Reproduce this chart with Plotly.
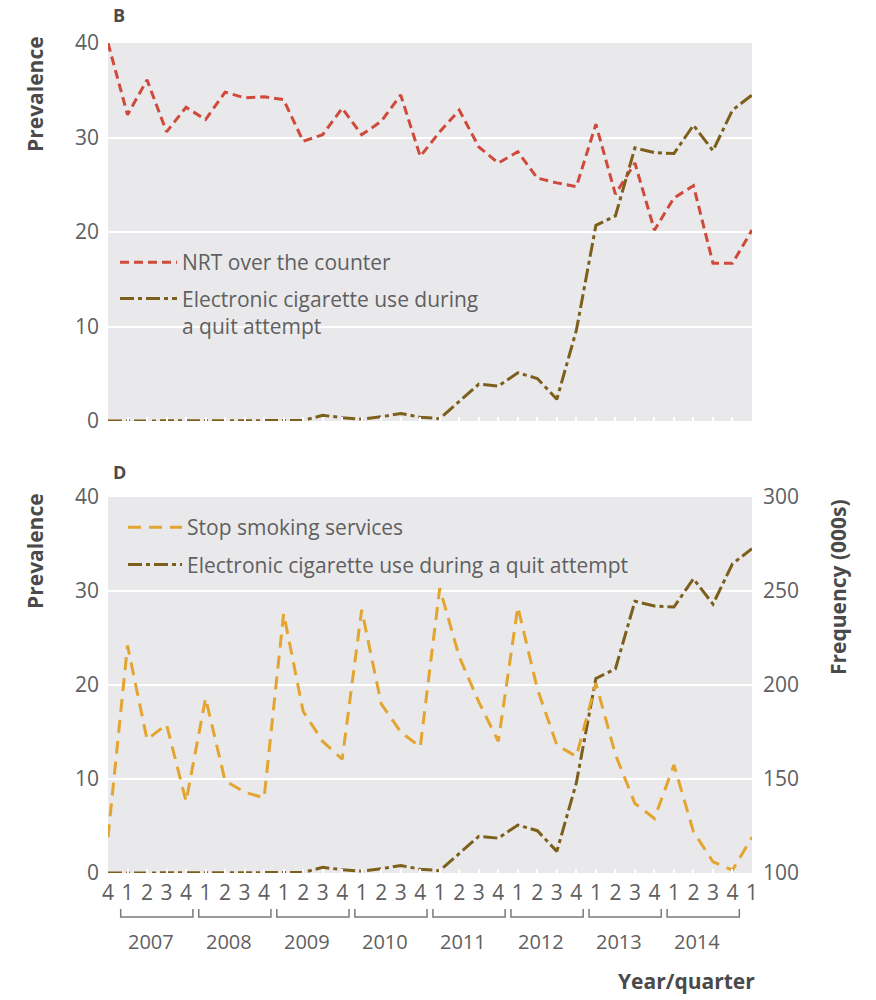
import plotly.graph_objects as go

# Quarter axis: 2006 Q4 through 2015 Q1
quarter_labels = ["4",
                  "1", "2", "3", "4", "1", "2", "3", "4",
                  "1", "2", "3", "4", "1", "2", "3", "4",
                  "1", "2", "3", "4", "1", "2", "3", "4",
                  "1", "2", "3", "4", "1", "2", "3", "4",
                  "1"]
years = ["2007", "2008", "2009", "2010", "2011", "2012", "2013", "2014"]

# Prevalence (%) of NRT bought over the counter
nrt_otc = [40.0, 32.4, 36.1, 30.6, 33.2, 31.9, 34.8, 34.2, 34.3, 34.0,
           29.6, 30.3, 33.1, 30.3, 31.7, 34.5, 28.0, 30.6, 32.9, 29.0,
           27.3, 28.5, 25.7, 25.2, 24.8, 31.4, 24.0, 27.3, 20.2, 23.6,
           24.9, 16.7, 16.7, 20.2]

# Prevalence (%) of electronic cigarette use during a quit attempt
ecig = [0, 0, 0, 0, 0, 0, 0, 0, 0, 0,
        0.05, 0.6, 0.35, 0.2, 0.45, 0.8, 0.4, 0.25, 2.1, 3.9,
        3.7, 5.1, 4.5, 2.3, 9.6, 20.7, 21.7, 28.9, 28.4, 28.3,
        31.3, 28.6, 32.9, 34.5]

# Stop smoking services, quit dates set (000s)
stop_smoking = [119, 221, 171, 179, 138, 193, 149, 143, 140, 238,
                186, 170, 160.5, 240, 190, 175, 167, 251.5, 215, 191,
                170, 241.5, 198, 168, 162, 201, 163, 137, 129, 157.5,
                122, 106, 101.5, 119]

idx = list(range(len(quarter_labels)))

W, H = 876, 1000
FONT = "Open Sans"
TXT = "#606060"
BOLD = "#4a4a4a"
BG = "#e9e9ec"
RED = "#cf4a3b"
BROWN = "#7d5f1c"
GOLD = "#e3a530"

DASH_NRT = "9px,5px"
DASH_ECIG = "14px,4px,4px,4px"
DASH_SSS = "13px,8px"

x0, x1 = 108 / W, 752 / W
top_dom = [1 - 421 / H, 1 - 43 / H]
bot_dom = [1 - 873 / H, 1 - 497 / H]

fig = go.Figure()

# Panel B
fig.add_trace(go.Scatter(x=idx, y=nrt_otc, mode="lines", name="NRT over the counter",
                         legendgroup="b_nrt",
                         line=dict(color=RED, width=3, dash=DASH_NRT),
                         xaxis="x", yaxis="y", legend="legend"))
fig.add_trace(go.Scatter(x=idx, y=ecig, mode="lines",
                         name="Electronic cigarette use during<br>a quit attempt",
                         legendgroup="b_ecig",
                         line=dict(color=BROWN, width=3, dash=DASH_ECIG),
                         xaxis="x", yaxis="y", legend="legend"))

# Panel D
fig.add_trace(go.Scatter(x=idx, y=stop_smoking, mode="lines", name="Stop smoking services",
                         legendgroup="d_sss",
                         line=dict(color=GOLD, width=3, dash=DASH_SSS),
                         xaxis="x2", yaxis="y3", legend="legend2"))
fig.add_trace(go.Scatter(x=idx, y=ecig, mode="lines",
                         name="Electronic cigarette use during a quit attempt",
                         legendgroup="d_ecig",
                         line=dict(color=BROWN, width=3, dash=DASH_ECIG),
                         xaxis="x2", yaxis="y2", legend="legend2"))

xcommon = dict(range=[0, len(idx) - 1], showgrid=False, zeroline=False, showline=False,
               tickmode="array", tickvals=idx, ticks="inside", ticklen=4,
               tickwidth=1.5, tickcolor="white", fixedrange=True, automargin=False)
ycommon = dict(range=[0, 40], tickvals=[0, 10, 20, 30, 40], showgrid=True,
               gridcolor="white", gridwidth=2, zeroline=False, showline=False,
               ticks="", ticklabelstandoff=8, automargin=False,
               tickfont=dict(family=FONT, size=21, color=TXT))

legend_common = dict(xanchor="left", yanchor="top", bgcolor="rgba(0,0,0,0)",
                     valign="top", font=dict(family=FONT, size=21, color=TXT))

fig.update_layout(
    width=W, height=H,
    margin=dict(l=0, r=0, t=0, b=0, autoexpand=False),
    paper_bgcolor="white", plot_bgcolor=BG,
    font=dict(family=FONT, color=TXT),
    xaxis=dict(domain=[x0, x1], anchor="y", showticklabels=False, **xcommon),
    yaxis=dict(domain=top_dom, anchor="x", **ycommon),
    xaxis2=dict(domain=[x0, x1], anchor="y2", ticktext=quarter_labels,
                showticklabels=True, ticklabelstandoff=5,
                tickfont=dict(family=FONT, size=21, color=TXT), **xcommon),
    yaxis2=dict(domain=bot_dom, anchor="x2", **ycommon),
    yaxis3=dict(overlaying="y2", side="right", anchor="x2", range=[100, 300],
                tickvals=[100, 150, 200, 250, 300], showgrid=False, zeroline=False,
                showline=False, ticks="", ticklabelstandoff=10, automargin=False,
                tickfont=dict(family=FONT, size=21, color=TXT)),
    legend=dict(x=115 / W, y=1 - 242 / H, itemwidth=57, tracegroupgap=6, **legend_common),
    legend2=dict(x=123 / W, y=1 - 507 / H, itemwidth=54, tracegroupgap=7, **legend_common),
    showlegend=True,
)

# Panel letters
for letter, ypix in (("B", 15), ("D", 472)):
    fig.add_annotation(text=f"<b>{letter}</b>", x=111 / W, y=1 - ypix / H,
                       xref="paper", yref="paper", xanchor="left", yanchor="middle",
                       showarrow=False, font=dict(family=FONT, size=18, color=BOLD))

# Axis titles, set near the top of each axis
for text, xpix, ypix in (("Prevalence", 35, 94), ("Prevalence", 35, 551),
                         ("Frequency (000s)", 838, 587)):
    fig.add_annotation(text=f"<b>{text}</b>", x=xpix / W, y=1 - ypix / H,
                       xref="paper", yref="paper", xanchor="center", yanchor="middle",
                       textangle=-90, showarrow=False,
                       font=dict(family=FONT, size=21, color=BOLD))

# Year brackets under the quarter labels
bracket_y, bracket_tip = 1 - 917 / H, 1 - 909 / H
for k, yr in enumerate(years):
    q1 = 1 + 4 * k
    q4 = q1 + 3
    a, b = q1 - 0.35, q4 + 0.35
    fig.add_shape(type="path", xref="x2", yref="paper",
                  path=f"M {a} {bracket_tip} L {a} {bracket_y} L {b} {bracket_y} L {b} {bracket_tip}",
                  line=dict(color="#7a7a7a", width=1.5))
    fig.add_annotation(text=yr, x=(q1 + q4) / 2 - 0.3, y=1 - 941 / H, xref="x2", yref="paper",
                       xanchor="center", yanchor="middle", showarrow=False,
                       font=dict(family=FONT, size=20, color=TXT))

fig.add_annotation(text="<b>Year/quarter</b>", x=757 / W, y=1 - 981 / H,
                   xref="paper", yref="paper", xanchor="right", yanchor="middle",
                   showarrow=False, font=dict(family=FONT, size=21, color=BOLD))

fig.write_html("out.html")
